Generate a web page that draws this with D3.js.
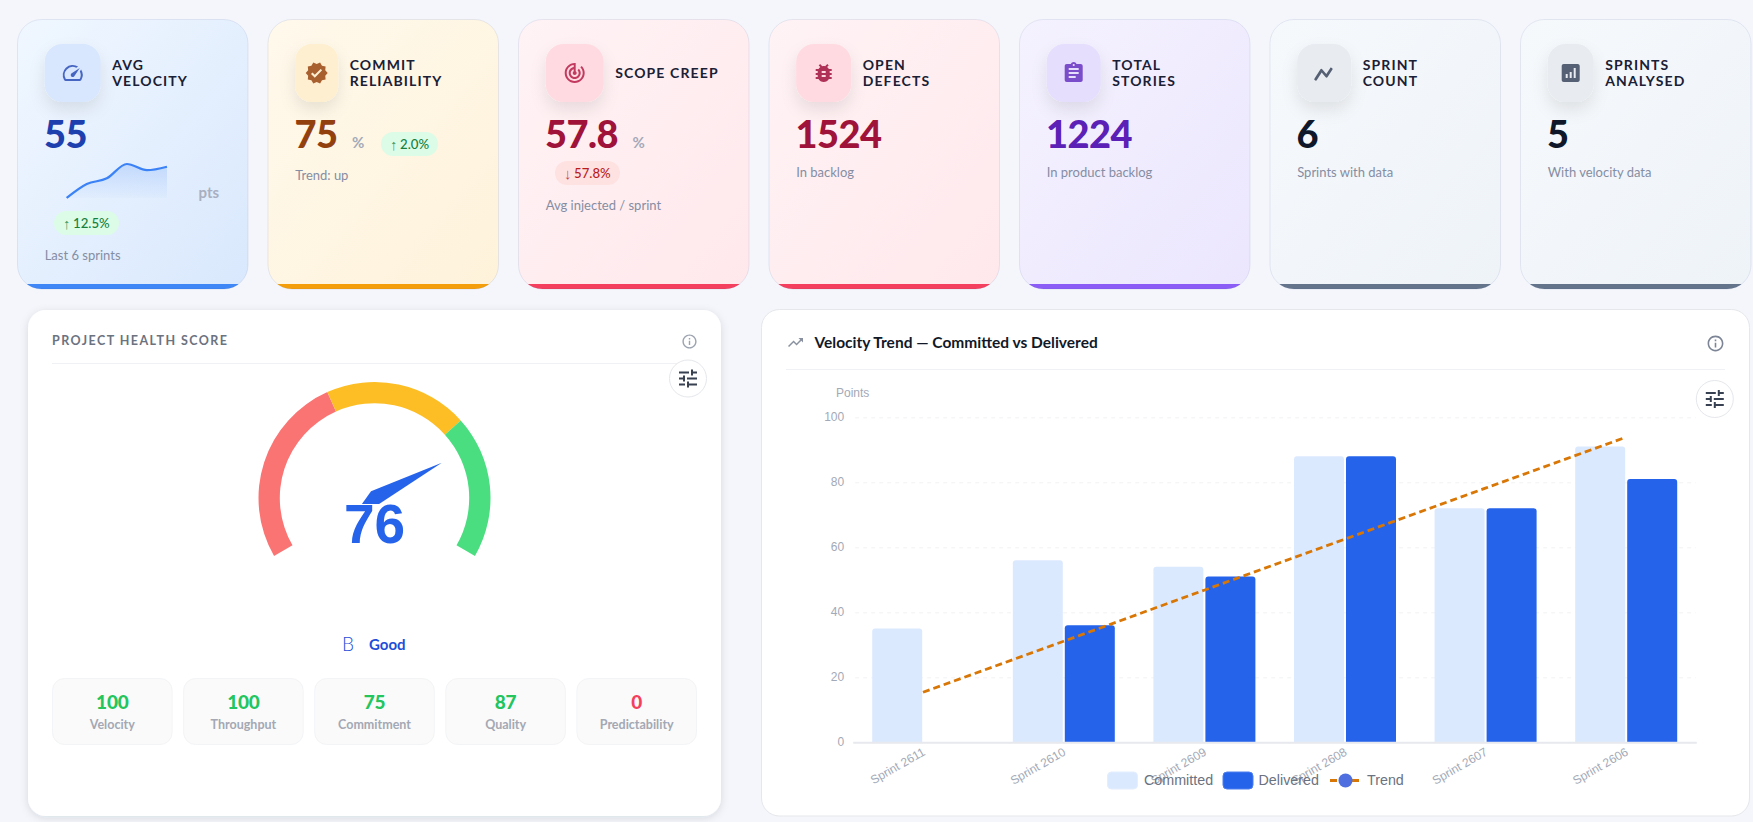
<!DOCTYPE html>
<html>
<head>
<meta charset="utf-8">
<title>Sprint dashboard</title>
<script src="https://cdn.jsdelivr.net/npm/d3@7/dist/d3.min.js"></script>
<style>
  html, body { margin: 0; padding: 0; background: #f4f6fb; overflow: hidden; }
  svg { display: block; font-family: Lato, "Noto Sans", sans-serif; }
  .chart-text { font-family: "Liberation Sans", Arial, sans-serif; }
</style>
</head>
<body>
<svg id="board" width="1753" height="822"></svg>
<script>
// KPI card content
const kpiTitles = [["AVG", "VELOCITY"], ["COMMIT", "RELIABILITY"], ["SCOPE CREEP"], ["OPEN", "DEFECTS"], ["TOTAL", "STORIES"], ["SPRINT", "COUNT"], ["SPRINTS", "ANALYSED"]];
const kpiValues = ["55", "75", "57.8", "1524", "1224", "6", "5"];
const kpiUnits = [null, "%", "%", null, null, null, null];
const kpiNotes = ["Last 6 sprints", "Trend: up", "Avg injected / sprint", "In backlog", "In product backlog", "Sprints with data", "With velocity data"];
const kpiBadges = [{ arrow: "↑", text: "12.5%", good: true }, { arrow: "↑", text: "2.0%", good: true }, { arrow: "↓", text: "57.8%", good: false }, null, null, null, null];

// Velocity chart series
const sprints = ["Sprint 2611", "Sprint 2610", "Sprint 2609", "Sprint 2608", "Sprint 2607", "Sprint 2606"];
const committed = [35, 56, 54, 88, 72, 91];
const delivered = [0, 36, 51, 88, 72, 81];
const trend = [15.4, 31.1, 46.8, 62.5, 78.2, 93.9];
const yTicks = [0, 20, 40, 60, 80, 100];

// Health panel
const healthScore = 76;
const healthGrade = "B";
const healthLabel = "Good";
const gaugeStops = [0, 0.4, 0.7, 1];
const healthParts = ["Velocity", "Throughput", "Commitment", "Quality", "Predictability"];
const healthPartValues = [100, 100, 75, 87, 0];

// Card styling, one entry per KPI card
const cardThemes = [
  { from: "#f0f7ff", to: "#d9e8fd", bar: "#3f86f6", box: "#d8e7fd", icon: "#4766c2", value: "#1e40af" },
  { from: "#fff9ec", to: "#fef2da", bar: "#f59e0b", box: "#feefd0", icon: "#a9602f", value: "#92400e" },
  { from: "#fff3f5", to: "#ffe8ec", bar: "#f43f5e", box: "#ffdbe1", icon: "#c23a5f", value: "#9f1239" },
  { from: "#fff3f5", to: "#ffe8ec", bar: "#f43f5e", box: "#ffdbe1", icon: "#b03158", value: "#9f1239" },
  { from: "#f5f2ff", to: "#ebe6fd", bar: "#8b5cf6", box: "#e6defd", icon: "#7a4dcb", value: "#5b21b6" },
  { from: "#f6f9fc", to: "#eef3f8", bar: "#64748b", box: "#e8ecf0", icon: "#566074", value: "#0f172a" },
  { from: "#f6f9fc", to: "#eef3f8", bar: "#64748b", box: "#e8ecf0", icon: "#566074", value: "#0f172a" }
];
const iconWidths = [56, 43, 58, 55, 54, 54, 46];
const noteBaselines = [260, 180, 210, 177, 177, 177, 177];
const badgeBoxes = [[54, 211, 65], [381, 132, 57], [555, 161, 65]];
const unitX = [0, 352, 632.5, 0, 0, 0, 0];
const titleGap = 11.5;

// Material icon outlines
const glyphs = {
  speed: "M20.38 8.57l-1.23 1.85a8 8 0 0 1-.22 7.58H5.07A8 8 0 0 1 15.58 6.85l1.85-1.23A10 10 0 0 0 3.35 19a2 2 0 0 0 1.72 1h13.85a2 2 0 0 0 1.74-1 10 10 0 0 0-.27-10.44zm-9.79 6.84a2 2 0 0 0 2.83 0l5.66-8.49-8.49 5.66a2 2 0 0 0 0 2.83z",
  verified: "M23 12l-2.44-2.79.34-3.69-3.61-.82-1.89-3.2L12 2.96 8.6 1.5 6.71 4.69 3.1 5.5l.34 3.7L1 12l2.44 2.79-.34 3.7 3.61.82L8.6 22.5l3.4-1.47 3.4 1.46 1.89-3.19 3.61-.82-.34-3.69L23 12zm-12.91 4.72l-3.8-3.81 1.48-1.48 2.32 2.33 5.85-5.87 1.48 1.48-7.33 7.35z",
  target: "M19.07 4.93l-1.41 1.41C19.1 7.79 20 9.79 20 12c0 4.42-3.58 8-8 8s-8-3.58-8-8c0-4.08 3.05-7.44 7-7.93v2.02C8.16 6.57 6 9.03 6 12c0 3.31 2.69 6 6 6s6-2.69 6-6c0-1.66-.67-3.16-1.76-4.24l-1.41 1.41C15.55 9.9 16 10.9 16 12c0 2.21-1.79 4-4 4s-4-1.79-4-4c0-1.86 1.28-3.41 3-3.86v2.14c-.6.35-1 .98-1 1.72 0 1.1.9 2 2 2s2-.9 2-2c0-.74-.4-1.38-1-1.72V2h-1C6.48 2 2 6.48 2 12s4.48 10 10 10 10-4.48 10-10c0-2.76-1.12-5.26-2.93-7.07z",
  bug: "M20 8h-2.81c-.45-.78-1.07-1.45-1.82-1.96L17 4.41 15.59 3l-2.17 2.17C12.96 5.06 12.49 5 12 5c-.49 0-.96.06-1.41.17L8.41 3 7 4.41l1.62 1.63C7.88 6.55 7.26 7.22 6.81 8H4v2h2.09c-.05.33-.09.66-.09 1v1H4v2h2v1c0 .34.04.67.09 1H4v2h2.81c1.04 1.79 2.97 3 5.19 3s4.15-1.21 5.19-3H20v-2h-2.09c.05-.33.09-.66.09-1v-1h2v-2h-2v-1c0-.34-.04-.67-.09-1H20V8zm-6 8h-4v-2h4v2zm0-4h-4v-2h4v2z",
  clipboard: "M19 3h-4.18C14.4 1.84 13.3 1 12 1c-1.3 0-2.4.84-2.82 2H5c-1.1 0-2 .9-2 2v14c0 1.1.9 2 2 2h14c1.1 0 2-.9 2-2V5c0-1.1-.9-2-2-2zm-7 0c.55 0 1 .45 1 1s-.45 1-1 1-1-.45-1-1 .45-1 1-1zm2 14H7v-2h7v2zm3-4H7v-2h10v2zm0-4H7V7h10v2z",
  line: "M2.5 17.2a1.4 1.4 0 1 0 2.3 1.5l4.7-7.3 3.8 4.6a1.3 1.3 0 0 0 2.1-.1l4.4-6.7a1.4 1.4 0 1 0-2.2-1.5l-3.5 5.4-3.9-4.7a1.3 1.3 0 0 0-2.1.1z",
  report: "M19 3H5c-1.1 0-2 .9-2 2v14c0 1.1.9 2 2 2h14c1.1 0 2-.9 2-2V5c0-1.1-.9-2-2-2zM9 17H7v-4h2v4zm4 0h-2v-6h2v6zm4 0h-2V7h2v10z",
  tune: "M3 17v2h6v-2H3zM3 5v2h10V5H3zm10 16v-2h8v-2h-8v-2h-2v6h2zM7 9v2H3v2h4v2h2V9H7zm14 4v-2H11v2h10zm-6-4h2V7h4V5h-4V3h-2v6z",
  info: "M11 7h2v2h-2zm0 4h2v6h-2zm1-9C6.48 2 2 6.48 2 12s4.48 10 10 10 10-4.48 10-10S17.52 2 12 2zm0 18c-4.41 0-8-3.59-8-8s3.59-8 8-8 8 3.59 8 8-3.59 8-8 8z",
  trending: "M16 6l2.29 2.29-4.88 4.88-4-4L2 16.59 3.41 18l6-6 4 4 6.3-6.29L22 12V6z"
};
const cardGlyphs = ["speed", "verified", "target", "bug", "clipboard", "line", "report"];

const svg = d3.select("#board");
const defs = svg.append("defs");

const boxShadow = defs.append("filter").attr("id", "iconShadow").attr("x", "-60%").attr("y", "-60%").attr("width", "220%").attr("height", "220%");
boxShadow.append("feDropShadow").attr("dx", 0).attr("dy", 8).attr("stdDeviation", 8).attr("flood-color", "#000").attr("flood-opacity", 0.09);
const panelShadow = defs.append("filter").attr("id", "panelShadow").attr("x", "-5%").attr("y", "-5%").attr("width", "110%").attr("height", "110%");
panelShadow.append("feDropShadow").attr("dx", 0).attr("dy", 2).attr("stdDeviation", 4).attr("flood-color", "#1e293b").attr("flood-opacity", 0.12);

function placeGlyph(parent, name, cx, cy, size, fill) {
  const s = size / 24;
  return parent.append("path")
    .attr("d", glyphs[name])
    .attr("transform", `translate(${cx - size / 2},${cy - size / 2}) scale(${s})`)
    .attr("fill", fill);
}

// KPI cards
const cardX = d3.scaleLinear().domain([0, 1]).range([17.5, 268]);
const cardW = 230.5, cardTop = 19.5, cardH = 269.5;

kpiValues.forEach((value, i) => {
  const x = cardX(i);
  const theme = cardThemes[i];
  const g = svg.append("g").attr("class", "kpi-card");

  const grad = defs.append("linearGradient").attr("id", `cardFill${i}`)
    .attr("x1", "0%").attr("y1", "0%").attr("x2", "100%").attr("y2", "100%");
  grad.append("stop").attr("offset", "0%").attr("stop-color", theme.from);
  grad.append("stop").attr("offset", "100%").attr("stop-color", theme.to);
  defs.append("clipPath").attr("id", `cardClip${i}`)
    .append("rect").attr("x", x).attr("y", cardTop).attr("width", cardW).attr("height", cardH).attr("rx", 24);

  g.append("rect").attr("x", x).attr("y", cardTop).attr("width", cardW).attr("height", cardH).attr("rx", 24)
    .attr("fill", `url(#cardFill${i})`);
  g.append("rect").attr("x", x).attr("y", cardTop + cardH - 5).attr("width", cardW).attr("height", 5)
    .attr("fill", theme.bar).attr("clip-path", `url(#cardClip${i})`);
  g.append("rect").attr("x", x).attr("y", cardTop).attr("width", cardW).attr("height", cardH).attr("rx", 24)
    .attr("fill", "none").attr("stroke", "#1e3a8a").attr("stroke-opacity", 0.09);

  // Icon tile and title
  const tileX = x + 27.2, tileW = iconWidths[i];
  g.append("rect").attr("x", tileX).attr("y", 44).attr("width", tileW).attr("height", 58).attr("rx", Math.min(18, tileW / 2.6))
    .attr("fill", theme.box).attr("filter", "url(#iconShadow)");
  placeGlyph(g, cardGlyphs[i], tileX + tileW / 2, 73, 24, theme.icon);

  const titleLines = kpiTitles[i];
  titleLines.forEach((line, k) => {
    g.append("text").text(line)
      .attr("x", tileX + tileW + titleGap)
      .attr("y", titleLines.length === 1 ? 78 : 70 + k * 16)
      .attr("font-size", 14).attr("font-weight", 700).attr("letter-spacing", 1.12).attr("fill", "#1a2035");
  });

  g.append("text").text(value)
    .attr("x", tileX - 0.8).attr("y", 147.5)
    .attr("font-size", 38).attr("font-weight", 900).attr("letter-spacing", -0.5).attr("fill", theme.value);

  if (kpiUnits[i]) {
    g.append("text").text(kpiUnits[i]).attr("x", unitX[i]).attr("y", 148)
      .attr("font-size", 15).attr("font-weight", 700).attr("fill", "#a3a9b9");
  }

  const badge = kpiBadges[i];
  if (badge) {
    const [bx, by, bw] = badgeBoxes[i];
    g.append("rect").attr("x", bx).attr("y", by).attr("width", bw).attr("height", 24).attr("rx", 12)
      .attr("fill", badge.good ? "#dcfce7" : "#fee2e2");
    const ink = badge.good ? "#15803d" : "#b91c1c";
    g.append("text").text(badge.arrow).attr("x", bx + 9).attr("y", by + 18)
      .attr("font-size", 15).attr("fill", ink).attr("fill-opacity", 0.8)
      .attr("font-family", "'Liberation Sans', sans-serif");
    g.append("text").text(badge.text).attr("x", bx + 19).attr("y", by + 16.5)
      .attr("font-size", 13.2).attr("font-weight", 500).attr("fill", ink);
  }

  g.append("text").text(kpiNotes[i]).attr("x", tileX).attr("y", noteBaselines[i])
    .attr("font-size", 13).attr("fill", "#858da3");
});

// Velocity sparkline on the first card, drawn from delivered points
const sparkX = d3.scalePoint().domain(sprints).range([66.7, 167]);
const sparkY = d3.scaleLinear().domain([0, 88]).range([198, 164]);
const sparkFill = defs.append("linearGradient").attr("id", "sparkFill").attr("x1", 0).attr("y1", 0).attr("x2", 0).attr("y2", 1);
sparkFill.append("stop").attr("offset", "0%").attr("stop-color", "#3b82f6").attr("stop-opacity", 0.2);
sparkFill.append("stop").attr("offset", "100%").attr("stop-color", "#3b82f6").attr("stop-opacity", 0.02);
const sparkSeries = sprints.map((s, i) => ({ s, v: delivered[i] }));
svg.append("path").datum(sparkSeries)
  .attr("d", d3.area().x(d => sparkX(d.s)).y0(198).y1(d => sparkY(d.v)).curve(d3.curveMonotoneX))
  .attr("fill", "url(#sparkFill)");
svg.append("path").datum(sparkSeries)
  .attr("d", d3.line().x(d => sparkX(d.s)).y(d => sparkY(d.v)).curve(d3.curveMonotoneX))
  .attr("fill", "none").attr("stroke", "#3b82f6").attr("stroke-width", 2.2);
svg.append("text").text("pts").attr("x", 198.5).attr("y", 198)
  .attr("font-size", 15).attr("font-weight", 700).attr("fill", "#a9afbf");

// Health score panel
const health = svg.append("g").attr("class", "health-panel");
health.append("rect").attr("x", 28).attr("y", 310).attr("width", 693).attr("height", 506).attr("rx", 18)
  .attr("fill", "#fff").attr("filter", "url(#panelShadow)");
health.append("text").text("PROJECT HEALTH SCORE").attr("x", 52).attr("y", 344.5)
  .attr("font-size", 12.5).attr("font-weight", 700).attr("letter-spacing", 1.45).attr("fill", "#6b7280");
health.append("line").attr("x1", 52).attr("x2", 697).attr("y1", 363.5).attr("y2", 363.5).attr("stroke", "#f0f1f4");
placeGlyph(health, "info", 689.5, 341.5, 17, "#9ca3af");

const gaugeCx = 374.5, gaugeCy = 498, gaugeOuter = 116, gaugeInner = 94.7;
const gaugeAngle = d3.scaleLinear().domain([0, 1]).range([-2 * Math.PI / 3, 2 * Math.PI / 3]);
const gaugeColors = ["#fb7474", "#fcbe24", "#4ade80"];
const gaugeArc = d3.arc().innerRadius(gaugeInner).outerRadius(gaugeOuter);
const gauge = health.append("g").attr("transform", `translate(${gaugeCx},${gaugeCy})`);
gauge.selectAll("path.band").data(d3.pairs(gaugeStops)).join("path").attr("class", "band")
  .attr("d", ([a, b]) => gaugeArc({ startAngle: gaugeAngle(a), endAngle: gaugeAngle(b) }))
  .attr("fill", (d, i) => gaugeColors[i]);

// Needle kite: tip, shoulders and a short tail around the gauge centre
const needleAngle = gaugeAngle(healthScore / 100);
const dir = [Math.sin(needleAngle), -Math.cos(needleAngle)];
const side = [-dir[1], dir[0]];
const kite = [
  [dir[0] * 76, dir[1] * 76],
  [side[0] * 7.5, side[1] * 7.5],
  [-dir[0] * 15, -dir[1] * 15],
  [-side[0] * 7.5, -side[1] * 7.5]
];
gauge.append("path").attr("d", d3.line()(kite) + "Z").attr("fill", "#2563eb");
// Score readout sits on its own white plate above the needle tail
gauge.append("rect").attr("x", -31).attr("y", 6).attr("width", 62).attr("height", 42).attr("fill", "#fff");
gauge.append("text").attr("class", "chart-text").text(healthScore)
  .attr("x", 0).attr("y", 45.3).attr("text-anchor", "middle")
  .attr("font-size", 55).attr("font-weight", 700).attr("fill", "#2563eb");

health.append("text").text(healthGrade).attr("x", 342).attr("y", 651)
  .attr("font-size", 19).attr("font-weight", 300).attr("fill", "#1d4ed8");
health.append("text").text(healthLabel).attr("x", 369).attr("y", 650)
  .attr("font-size", 15).attr("font-weight", 700).attr("fill", "#1d4ed8");

const partX = d3.scaleBand().domain(healthParts).range([52.5, 696.5]).paddingInner(0.0875);
healthParts.forEach((name, i) => {
  const x = partX(name), w = partX.bandwidth(), v = healthPartValues[i];
  health.append("rect").attr("x", x).attr("y", 678.5).attr("width", w).attr("height", 66).attr("rx", 12)
    .attr("fill", "#fafafa").attr("stroke", "#f3f4f6");
  health.append("text").text(v).attr("x", x + w / 2).attr("y", 709).attr("text-anchor", "middle")
    .attr("font-size", 19).attr("font-weight", 900).attr("letter-spacing", -0.2).attr("fill", v === 0 ? "#f43f5e" : "#22c55e");
  health.append("text").text(name).attr("x", x + w / 2).attr("y", 729).attr("text-anchor", "middle")
    .attr("font-size", 12.5).attr("font-weight", 700).attr("fill", "#a3a8b4");
});

// Velocity trend panel
const velo = svg.append("g").attr("class", "velocity-panel");
velo.append("rect").attr("x", 761.5).attr("y", 309.5).attr("width", 988).attr("height", 506.5).attr("rx", 18)
  .attr("fill", "#fff").attr("stroke", "#e5e7eb");
placeGlyph(velo, "trending", 795.5, 342.5, 18, "#7c8495").attr("fill-opacity", 0.9);
velo.append("text").text("Velocity Trend — Committed vs Delivered").attr("x", 814.5).attr("y", 348)
  .attr("font-size", 15.5).attr("font-weight", 700).attr("fill", "#111827");
velo.append("line").attr("x1", 786).attr("x2", 1725).attr("y1", 369.5).attr("y2", 369.5).attr("stroke", "#f0f1f4");
placeGlyph(velo, "info", 1715.5, 343.5, 19, "#7c8495");

const plotLeft = 852.7, plotRight = 1696.3;
const x0 = d3.scaleBand().domain(sprints).range([plotLeft, plotRight]);
const seriesNames = ["Committed", "Delivered"];
const x1 = d3.scaleBand().domain(seriesNames).range([19.5, 121.5]).paddingInner(0.0385);
const y = d3.scaleLinear().domain([0, 100]).range([742.3, 417.3]);

const chart = velo.append("g").attr("class", "chart-text");

// Horizontal guides and y labels
const yAxis = d3.axisLeft(y).tickValues(yTicks).tickSize(-(plotRight - plotLeft - 3)).tickPadding(11);
chart.append("g").attr("transform", `translate(${plotLeft + 2.5},0)`).call(yAxis)
  .call(g => g.select(".domain").remove())
  .call(g => g.selectAll(".tick line").attr("stroke", "#f1f2f5").attr("stroke-dasharray", "4 4"))
  .call(g => g.selectAll(".tick text").attr("fill", "#a3a9b6").attr("font-size", 12).attr("dy", "0.25em").attr("font-family", "'Liberation Sans', Arial, sans-serif"));

chart.append("text").text("Points").attr("x", 836).attr("y", 396.5)
  .attr("font-size", 12).attr("fill", "#a3a9b6");

// Bars with softly rounded top corners
function topRounded(x, y0, w, yTop, r) {
  const p = d3.path();
  p.moveTo(x, y0);
  p.lineTo(x, yTop + r);
  p.quadraticCurveTo(x, yTop, x + r, yTop);
  p.lineTo(x + w - r, yTop);
  p.quadraticCurveTo(x + w, yTop, x + w, yTop + r);
  p.lineTo(x + w, y0);
  p.closePath();
  return p.toString();
}
const seriesValues = [committed, delivered];
const seriesColors = ["#dbe9fe", "#2563eb"];
seriesNames.forEach((name, k) => {
  chart.append("g").attr("class", "bars").selectAll("path")
    .data(sprints.map((s, i) => ({ s, v: seriesValues[k][i] })).filter(d => d.v > 0))
    .join("path")
    .attr("d", d => topRounded(x0(d.s) + x1(name), y(0), x1.bandwidth(), y(d.v), 3))
    .attr("fill", seriesColors[k]);
});

// x axis with slanted sprint labels
const xAxis = d3.axisBottom(x0).tickSize(0).tickPadding(0);
chart.append("g").attr("transform", `translate(0,${y(0)})`).call(xAxis)
  .call(g => g.select(".domain").attr("stroke", "#e7e9ee").attr("stroke-width", 2))
  .call(g => g.selectAll(".tick text")
    .attr("fill", "#a3a9b6").attr("font-size", 12).attr("font-family", "'Liberation Sans', Arial, sans-serif")
    .attr("text-anchor", "end").attr("dy", 0).attr("y", 0)
    .attr("transform", "translate(3,12) rotate(-30)"));

// Trend line runs through the band centres
const trendSeries = sprints.map((s, i) => ({ s, v: trend[i] }));
chart.append("path").datum(trendSeries)
  .attr("d", d3.line().x(d => x0(d.s) + x0.bandwidth() / 2).y(d => y(d.v)))
  .attr("fill", "none").attr("stroke", "#d97706").attr("stroke-width", 2.8).attr("stroke-dasharray", "7 4");

// Legend, laid over the axis labels
const legend = chart.append("g").attr("class", "legend");
const legendItems = [
  { name: "Committed", swatch: 1107.5, label: 1144 },
  { name: "Delivered", swatch: 1223, label: 1258.5 }
];
legendItems.forEach((item, i) => {
  legend.append("rect").attr("x", item.swatch).attr("y", 772).attr("width", 30).attr("height", 17).attr("rx", 4)
    .attr("fill", seriesColors[i]).attr("stroke", i ? "#4f7fee" : "#e3eefe");
  legend.append("text").text(item.name).attr("x", item.label).attr("y", 785)
    .attr("font-size", 14.3).attr("fill", "#6b7280");
});
legend.append("line").attr("x1", 1330).attr("x2", 1361).attr("y1", 780.5).attr("y2", 780.5)
  .attr("stroke", "#d97706").attr("stroke-width", 2.8).attr("stroke-dasharray", "7 4");
legend.append("circle").attr("cx", 1345.5).attr("cy", 780.5).attr("r", 7).attr("fill", "#4f6fe0");
legend.append("text").text("Trend").attr("x", 1367).attr("y", 785)
  .attr("font-size", 14.3).attr("fill", "#6b7280");

// Round filter buttons, one per panel
[[688, 378.5], [1714.8, 399]].forEach(([cx, cy]) => {
  svg.append("circle").attr("cx", cx).attr("cy", cy).attr("r", 18.5).attr("fill", "#fff").attr("stroke", "#e5e7eb");
  placeGlyph(svg, "tune", cx, cy, 24, "#374151");
});
</script>
</body>
</html>
